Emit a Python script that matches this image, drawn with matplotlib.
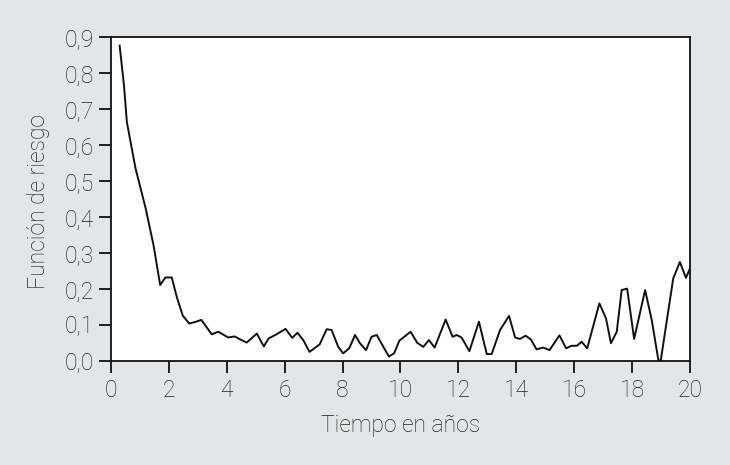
import matplotlib
matplotlib.use("Agg")
import matplotlib.pyplot as plt
from matplotlib.ticker import FuncFormatter

# Data
tiempo = [0.3, 0.45, 0.55, 0.85, 1.2, 1.47, 1.7, 1.88, 2.1, 2.28, 2.48, 2.7, 2.9,
          3.12, 3.48, 3.71, 4.05, 4.27, 4.48, 4.69, 5.04, 5.28, 5.44, 5.72, 6.03,
          6.26, 6.44, 6.64, 6.86, 7.21, 7.45, 7.62, 7.85, 8.02, 8.23, 8.43, 8.6,
          8.81, 9.0, 9.18, 9.41, 9.6, 9.78, 9.96, 10.16, 10.35, 10.58, 10.79,
          10.98, 11.18, 11.37, 11.56, 11.8, 11.94, 12.11, 12.38, 12.71, 12.98,
          13.15, 13.44, 13.75, 13.96, 14.13, 14.32, 14.5, 14.7, 14.93, 15.15,
          15.49, 15.72, 15.91, 16.09, 16.26, 16.45, 16.87, 17.1, 17.27, 17.47,
          17.64, 17.83, 18.07, 18.45, 18.68, 18.91, 18.99, 19.42, 19.65, 19.86,
          20.0]
riesgo = [0.876, 0.765, 0.663, 0.534, 0.423, 0.321, 0.21, 0.231, 0.231, 0.175,
          0.125, 0.103, 0.107, 0.113, 0.073, 0.080, 0.064, 0.067, 0.058, 0.050,
          0.075, 0.039, 0.061, 0.073, 0.088, 0.063, 0.077, 0.057, 0.024, 0.045,
          0.087, 0.085, 0.038, 0.020, 0.034, 0.071, 0.048, 0.029, 0.066, 0.071,
          0.038, 0.011, 0.020, 0.055, 0.068, 0.080, 0.049, 0.038, 0.057, 0.036,
          0.075, 0.114, 0.066, 0.071, 0.064, 0.026, 0.108, 0.018, 0.018, 0.085,
          0.124, 0.064, 0.060, 0.069, 0.059, 0.031, 0.036, 0.029, 0.070, 0.034,
          0.041, 0.041, 0.052, 0.034, 0.159, 0.117, 0.048, 0.080, 0.196, 0.200,
          0.060, 0.196, 0.112, 0.0, 0.0, 0.228, 0.274, 0.23, 0.256]

x_ticks = [0, 2, 4, 6, 8, 10, 12, 14, 16, 18, 20]
y_ticks = [0.0, 0.1, 0.2, 0.3, 0.4, 0.5, 0.6, 0.7, 0.8, 0.9]

plt.rcParams['font.family'] = ['Roboto', 'DejaVu Sans']

bg = '#e4e5e6'
txt = '#222222'
fs = 16.5
fig = plt.figure(figsize=(7.3, 4.65), dpi=100, facecolor=bg)
ax = fig.add_axes([0.152, 0.2247, 0.7932, 0.6957])
ax.set_facecolor('white')

ax.plot(tiempo, riesgo, color='#111111', lw=1.4, clip_on=True)

ax.set_xlim(0, 20)
ax.set_ylim(0, 0.9)
ax.set_xticks(x_ticks)
ax.set_yticks(y_ticks)
ax.yaxis.set_major_formatter(FuncFormatter(lambda v, p: f"{v:.1f}".replace('.', ',')))

for s in ax.spines.values():
    s.set_linewidth(1.3)
    s.set_color('#111111')

ax.tick_params(axis='both', direction='out', length=8.5, width=1.3, color='#111111',
               labelsize=fs, labelcolor=txt)
ax.tick_params(axis='x', pad=5)
ax.tick_params(axis='y', pad=4)
for lab in ax.get_xticklabels() + ax.get_yticklabels():
    lab.set_fontweight('light')

xl = ax.set_xlabel('Tiempo en años', fontsize=fs, color=txt, fontweight='light')
yl = ax.set_ylabel('Función de riesgo', fontsize=fs, color=txt, fontweight='light')
xl.set_va('center')
yl.set_va('center')
ax.xaxis.set_label_coords(0.5, -0.2)
ax.yaxis.set_label_coords(-0.126, 0.49)

fig.savefig('out.png', dpi=100, facecolor=bg)
